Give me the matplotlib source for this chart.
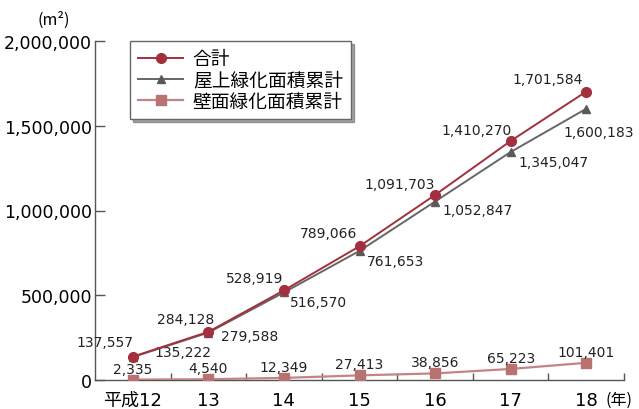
import matplotlib.pyplot as plt
from matplotlib.ticker import FuncFormatter

plt.rcParams['font.family'] = ['DejaVu Sans', 'Noto Sans CJK JP']

years = ["平成12", "13", "14", "15", "16", "17", "18"]
total = [137557, 284128, 528919, 789066, 1091703, 1410270, 1701584]
roof = [135222, 279588, 516570, 761653, 1052847, 1345047, 1600183]
wall = [2335, 4540, 12349, 27413, 38856, 65223, 101401]

# label offsets in pixels (dx, dy)
total_off = [(1, 15), (6, 13), (-1, 12), (-2, 13), (0, 11), (1, 11), (-3, 13)]
roof_off = [(22, 5), (13, -3), (6, -10), (7, -10), (7, -8), (8, -10), (-23, -23)]

c_total = "#a3303c"
c_roof = "#666666"
c_wall = "#c48486"
c_axis = "#555555"

fig = plt.figure(figsize=(6.39, 4.10), dpi=100)
ax = fig.add_axes([95 / 639, 29 / 410, 529 / 639, 339 / 410])

x = list(range(len(years)))

ax.plot(x, wall, color=c_wall, lw=1.6, marker="s", ms=7,
        mfc="#b87272", mec="#b87272", label="壁面緑化面積累計", zorder=3)
ax.plot(x, roof, color=c_roof, lw=1.4, marker="^", ms=6,
        mfc="#5a5a5a", mec="#5a5a5a", label="屋上緑化面積累計", zorder=4)
ax.plot(x, total, color=c_total, lw=1.4, marker="o", ms=7,
        mfc=c_total, mec=c_total, label="合計", zorder=5)

for i, v in enumerate(total):
    ax.annotate(f"{v:,}", (i, v), xytext=total_off[i], textcoords="offset pixels",
                ha="right", va="center", fontsize=10, color="#222222")
for i, v in enumerate(roof):
    ax.annotate(f"{v:,}", (i, v), xytext=roof_off[i], textcoords="offset pixels",
                ha="left", va="center", fontsize=10, color="#222222")
for i, v in enumerate(wall):
    ax.annotate(f"{v:,}", (i, v), xytext=(0, 11), textcoords="offset pixels",
                ha="center", va="center", fontsize=10, color="#222222")

ax.set_xlim(-0.5, len(years) - 0.5)
ax.set_ylim(0, 2000000)
ax.set_yticks([0, 500000, 1000000, 1500000, 2000000])
ax.yaxis.set_major_formatter(FuncFormatter(lambda v, p: f"{int(v):,}"))
ax.tick_params(axis="y", direction="in", length=7, width=1, color=c_axis,
               labelsize=12.5, pad=2)

ax.set_xticks(x)
ax.set_xticklabels(years, fontsize=13)
ax.set_xticks([i + 0.5 for i in x], minor=True)
ax.tick_params(axis="x", which="major", length=0, pad=8)
ax.tick_params(axis="x", which="minor", direction="in", length=5, width=1,
               color=c_axis)

for side in ["top", "right"]:
    ax.spines[side].set_visible(False)
for side in ["left", "bottom"]:
    ax.spines[side].set_color(c_axis)
    ax.spines[side].set_linewidth(1)

handles, labels = ax.get_legend_handles_labels()
leg = ax.legend(handles[::-1], labels[::-1], loc="upper left",
                bbox_to_anchor=(130 / 639, 1 - 42 / 410), bbox_transform=fig.transFigure,
                borderaxespad=0, fontsize=13.5, frameon=True, fancybox=False,
                shadow=True, edgecolor="#666666", framealpha=1, borderpad=0.45,
                labelspacing=0.12, handlelength=2.4, handletextpad=0.5)
leg.get_frame().set_linewidth(1)

fig.text(54 / 639, 1 - 20 / 410, "(m²)", ha="center", va="center", fontsize=11.5,
         family=['Noto Sans CJK JP', 'DejaVu Sans'])
fig.text(619 / 639, 1 - 400 / 410, "(年)", ha="center", va="center", fontsize=11.5,
         family=['Noto Sans CJK JP', 'DejaVu Sans'])

fig.savefig("out.png", dpi=100)
